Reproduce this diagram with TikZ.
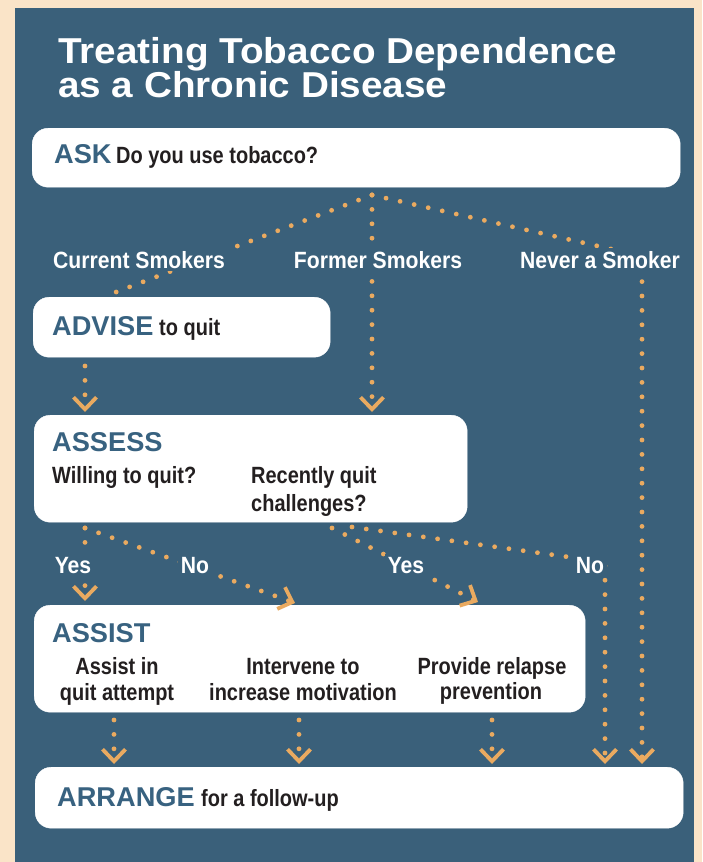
\documentclass[tikz,border=0pt]{standalone}
\usepackage{fontspec}
\setmainfont{Liberation Sans}
\newfontfamily\condf[FakeStretch=0.85]{Liberation Sans}
\newfontfamily\condl[FakeStretch=0.9]{Liberation Sans}
\newfontfamily\titlef[FakeStretch=1.075]{Liberation Sans}
\usetikzlibrary{arrows.meta}
\definecolor{bgblue}{RGB}{58,96,122}
\definecolor{hdblue}{RGB}{56,98,128}
\definecolor{dotor}{RGB}{234,170,96}
\definecolor{cream}{RGB}{250,228,200}
\definecolor{ink}{RGB}{35,31,32}
\begin{document}
\begin{tikzpicture}[x=1pt,y=-1pt,
  box/.style={draw=white, fill=white, rounded corners=16pt, anchor=north west, inner sep=0pt},
  hdr/.style={anchor=base west, inner sep=0pt, text=hdblue, font=\fontsize{27.2}{28}\selectfont\bfseries},
  body/.style={inner sep=0pt, text=ink, font=\condf\fontsize{23.5}{26}\selectfont\bfseries},
  lbl/.style={anchor=base, inner sep=3pt, fill=bgblue, text=white, font=\condl\fontsize{23.5}{26}\selectfont\bfseries},
  ttl/.style={anchor=base west, inner sep=0pt, text=white, font=\titlef\fontsize{36}{36}\selectfont\bfseries},
  dotline/.style={draw=dotor, line width=4.8pt, line cap=round, dash pattern=on 0pt off 14.4pt},
  dotarrow/.style={dotline, -{Straight Barb[length=12pt,width=23pt,line width=3.8pt]}}
]
\useasboundingbox (0,0) rectangle (702,862);
\fill[cream] (0,0) rectangle (702,862);
\fill[bgblue] (15,8) rectangle (694,862);

% title
\node[ttl] (t1) at (58,63) {Treating Tobacco Dependence};
\node[ttl] (t2) at (58,97) {as a Chronic Disease};

% boxes
\node[box, minimum width=648pt, minimum height=59pt] (ask) at (32,128) {};
\node[box, minimum width=297pt, minimum height=60pt] (advise) at (33,297) {};
\node[box, minimum width=433pt, minimum height=107pt] (assess) at (34,415) {};
\node[box, minimum width=551pt, minimum height=107pt] (assist) at (34,605) {};
\node[box, minimum width=648pt, minimum height=61pt] (arrange) at (35,767) {};

% box texts
\node[hdr] (askh) at (54,163) {ASK};
\node[body, anchor=base west] (askt) at (116,163) {Do you use tobacco?};
\node[hdr] (advh) at (52,335) {ADVISE};
\node[body, anchor=base west] (advt) at (159,335) {to quit};
\node[hdr] (assh) at (52,451) {ASSESS};
\node[body, anchor=base west] (ass1) at (52,483) {Willing to quit?};
\node[body, anchor=base west] (ass2) at (251,483) {Recently quit};
\node[body, anchor=base west] (ass3) at (251,511) {challenges?};
\node[hdr] (asih) at (52,642) {ASSIST};
\node[body, anchor=base] (as1a) at (117,674) {Assist in};
\node[body, anchor=base] (as1b) at (117,700) {quit attempt};
\node[body, anchor=base] (as2a) at (303,674) {Intervene to};
\node[body, anchor=base] (as2b) at (303,700) {increase motivation};
\node[body, anchor=base] (as3a) at (492,674) {Provide relapse};
\node[body, anchor=base] (as3b) at (491,699) {prevention};
\node[hdr] (arrh) at (57,806) {ARRANGE};
\node[body, anchor=base west] (arrt) at (201,806) {for a follow-up};

% connector points
\coordinate (apex) at (372,195);
\coordinate (advin) at (103,297);
\coordinate (assin) at (372,412);
\coordinate (nevcorner) at (642,256);
\coordinate (nevend) at (642,764);
\coordinate (advout) at (85,366);
\coordinate (assinL) at (85,412);
\coordinate (willout) at (85,528);
\coordinate (yesL) at (85,601);
\coordinate (noL) at (295,603);
\coordinate (recout1) at (332,528);
\coordinate (recout2) at (352,527);
\coordinate (yesR) at (478,602);
\coordinate (nocorner) at (605,562);
\coordinate (noend) at (605,764);
\coordinate (o1) at (114,720);
\coordinate (o2) at (299,720);
\coordinate (o3) at (492,720);
\coordinate (i1) at (114,764);
\coordinate (i2) at (299,764);
\coordinate (i3) at (492,764);

% connectors
\draw[dotline] (apex) -- (advin);
\draw[dotarrow] (apex) -- (assin);
\draw[dotarrow] (apex) -- (nevcorner) -- (nevend);
\draw[dotarrow] (advout) -- (assinL);
\draw[dotarrow] (willout) -- (yesL);
\draw[dotarrow] (willout) -- (noL);
\draw[dotarrow] (recout1) -- (yesR);
\draw[dotarrow] (recout2) -- (nocorner) -- (noend);
\draw[dotarrow] (o1) -- (i1);
\draw[dotarrow] (o2) -- (i2);
\draw[dotarrow] (o3) -- (i3);

% labels
\node[lbl] (cur) at (139,268) {Current Smokers};
\node[lbl] (former) at (378,268) {Former Smokers};
\node[lbl] (never) at (600,268) {Never a Smoker};
\node[lbl] (yes1) at (73,573) {Yes};
\node[lbl] (no1) at (195,573) {No};
\node[lbl] (yes2) at (406,573) {Yes};
\node[lbl] (no2) at (590,573) {No};
\end{tikzpicture}
\end{document}
